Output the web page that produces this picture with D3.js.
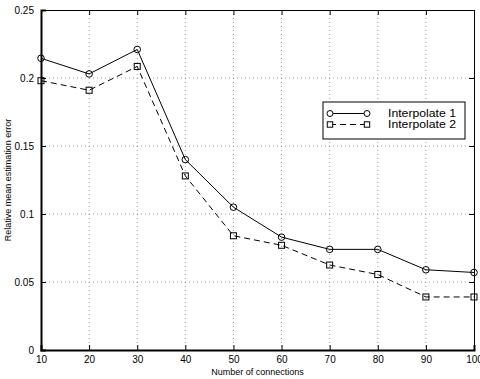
<!DOCTYPE html>
<html>
<head>
<meta charset="utf-8">
<script src="https://cdn.jsdelivr.net/npm/d3@7"></script>
<style>
  body { margin: 0; background: #fff; }
  svg { display: block; font-family: "Liberation Sans", Arial, sans-serif; }
</style>
</head>
<body>
<div id="chart"></div>
<script>
const connections = [10, 20, 30, 40, 50, 60, 70, 80, 90, 100];
const interp1 = [0.2145, 0.203, 0.221, 0.140, 0.105, 0.083, 0.074, 0.074, 0.059, 0.057];
const interp2 = [0.198, 0.191, 0.2085, 0.128, 0.084, 0.077, 0.0625, 0.0555, 0.039, 0.039];
const xTicks = [10, 20, 30, 40, 50, 60, 70, 80, 90, 100];
const yTicks = [0, 0.05, 0.1, 0.15, 0.2, 0.25];
const yTickLabels = ['0', '0.05', '0.1', '0.15', '0.2', '0.25'];
const seriesNames = ['Interpolate 1', 'Interpolate 2'];

const W = 480, H = 379;
const margin = {top: 10, right: 6, bottom: 29, left: 41};
const width = W - margin.left - margin.right,
      height = H - margin.top - margin.bottom;

const svg = d3.select('#chart').append('svg')
    .attr('width', W).attr('height', H);
const g = svg.append('g')
    .attr('transform', 'translate(' + margin.left + ',' + margin.top + ')');

const x = d3.scaleLinear().domain([10, 100]).range([0, width]);
const y = d3.scaleLinear().domain([0, 0.25]).range([height, 0]);

// grid
g.append('g').selectAll('line').data(xTicks.slice(1, -1)).enter().append('line')
    .attr('x1', d => x(d)).attr('x2', d => x(d))
    .attr('y1', 0).attr('y2', height)
    .attr('stroke', '#777').attr('stroke-width', 0.7)
    .attr('stroke-dasharray', '1,3');
g.append('g').selectAll('line').data(yTicks.slice(1, -1)).enter().append('line')
    .attr('y1', d => y(d)).attr('y2', d => y(d))
    .attr('x1', 0).attr('x2', width)
    .attr('stroke', '#777').attr('stroke-width', 0.7)
    .attr('stroke-dasharray', '1,3');

// axes (inward ticks, MATLAB style)
const xAxis = g.append('g').attr('transform', 'translate(0,' + height + ')')
    .call(d3.axisBottom(x).tickValues(xTicks).tickSize(-5).tickPadding(7)
        .tickFormat(d3.format('d')));
const yAxis = g.append('g')
    .call(d3.axisLeft(y).tickValues(yTicks).tickSize(-5).tickPadding(7)
        .tickFormat((d, i) => yTickLabels[i]));
const xTop = g.append('g')
    .call(d3.axisTop(x).tickValues(xTicks).tickSize(-5).tickFormat(''));
const yRight = g.append('g').attr('transform', 'translate(' + width + ',0)')
    .call(d3.axisRight(y).tickValues(yTicks).tickSize(-5).tickFormat(''));

[xAxis, yAxis].forEach(a => {
  a.select('.domain').attr('stroke-width', 2);
  a.selectAll('text').attr('font-size', 10).attr('fill', '#000');
});
[xTop, yRight].forEach(a => a.select('.domain').attr('stroke-width', 1));
xAxis.selectAll('text').attr('dy', '0.55em');

// axis labels
svg.append('text')
    .attr('x', margin.left + width / 2).attr('y', 375)
    .attr('text-anchor', 'middle').attr('font-size', 9)
    .text('Number of connections');
svg.append('text')
    .attr('transform', 'translate(11,' + (margin.top + height / 2) + ') rotate(-90)')
    .attr('text-anchor', 'middle').attr('font-size', 9)
    .text('Relative mean estimation error');

// lines
const line = d3.line().x(d => x(d[0])).y(d => y(d[1]));
const s1 = connections.map((c, i) => [c, interp1[i]]);
const s2 = connections.map((c, i) => [c, interp2[i]]);

g.append('path').attr('d', line(s1))
    .attr('fill', 'none').attr('stroke', '#000').attr('stroke-width', 1);
g.append('path').attr('d', line(s2))
    .attr('fill', 'none').attr('stroke', '#000').attr('stroke-width', 1)
    .attr('stroke-dasharray', '6,4');

g.selectAll('.m1').data(s1).enter().append('circle')
    .attr('cx', d => x(d[0])).attr('cy', d => y(d[1])).attr('r', 3.3)
    .attr('fill', 'none').attr('stroke', '#000').attr('stroke-width', 1);
g.selectAll('.m2').data(s2).enter().append('rect')
    .attr('x', d => x(d[0]) - 3).attr('y', d => y(d[1]) - 3)
    .attr('width', 6).attr('height', 6)
    .attr('fill', 'none').attr('stroke', '#000').attr('stroke-width', 1);

// legend
const lg = svg.append('g').attr('transform', 'translate(323,102)');
lg.append('rect').attr('width', 142).attr('height', 37)
    .attr('fill', '#fff').attr('stroke', '#000').attr('stroke-width', 1);
const rows = [11.5, 22.5];
seriesNames.forEach((name, i) => {
  const ry = rows[i];
  lg.append('line').attr('x1', 7).attr('x2', 44).attr('y1', ry).attr('y2', ry)
      .attr('stroke', '#000').attr('stroke-width', 1)
      .attr('stroke-dasharray', i ? '6,4' : null);
  [7, 44].forEach(mx => {
    if (i === 0) {
      lg.append('circle').attr('cx', mx).attr('cy', ry).attr('r', 3)
          .attr('fill', '#fff').attr('stroke', '#000');
    } else {
      lg.append('rect').attr('x', mx - 2.7).attr('y', ry - 2.7)
          .attr('width', 5.4).attr('height', 5.4)
          .attr('fill', '#fff').attr('stroke', '#000');
    }
  });
  lg.append('text').attr('x', 65).attr('y', ry).attr('dy', '0.36em')
      .attr('font-size', 10.5)
      .attr('textLength', 68).attr('lengthAdjust', 'spacingAndGlyphs')
      .text(name);
});
</script>
</body>
</html>
